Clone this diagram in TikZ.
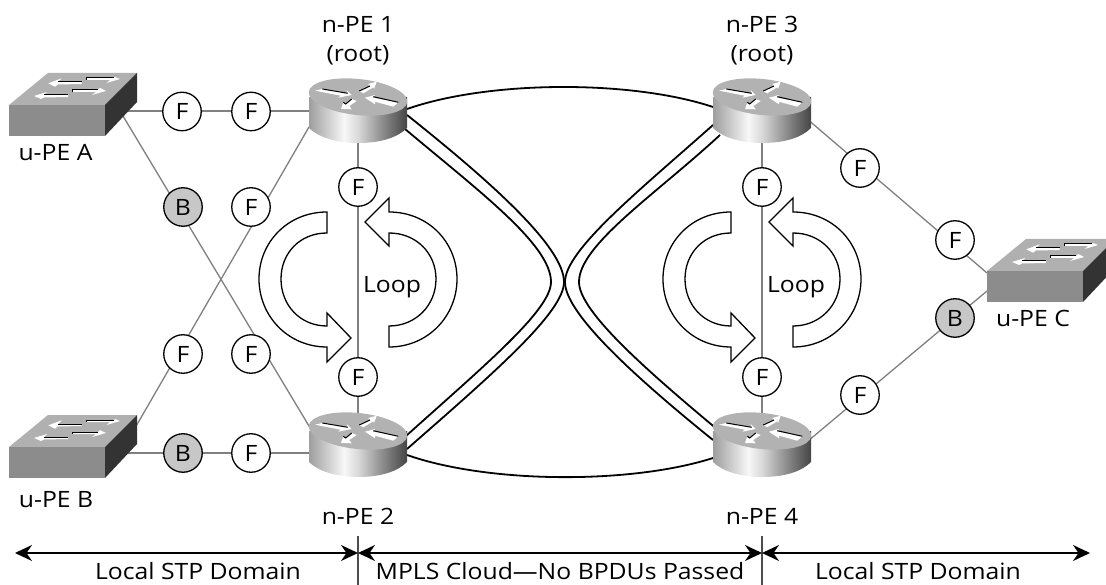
\documentclass[tikz,border=0pt]{standalone}
\usepackage{fontspec}
\setmainfont[FakeStretch=1.1]{Open Sans}
\usetikzlibrary{arrows.meta}
\pgfdeclarehorizontalshading{routerside}{100bp}{
 rgb(0bp)=(0.62,0.62,0.62);
 rgb(25bp)=(0.62,0.62,0.62);
 rgb(43bp)=(0.97,0.97,0.97);
 rgb(50bp)=(0.85,0.85,0.85);
 rgb(62bp)=(0.56,0.56,0.56);
 rgb(75bp)=(0.27,0.27,0.27);
 rgb(100bp)=(0.27,0.27,0.27)}
\definecolor{linkgray}{gray}{0.5}
\tikzset{
 x=1pt,y=-1pt,
 portline/.style={draw=linkgray,line width=1.3pt},
 stp/.style={circle,draw=black,fill=white,line width=1.3pt,minimum size=38.5pt,inner sep=0pt,font=\fontsize{22.5}{24}\selectfont},
 blocked/.style={stp,fill=black!22},
 lbl/.style={font=\fontsize{22.5}{24}\selectfont,inner sep=0pt},
 cable/.style={draw=black,line width=1.8pt},
 loopshape/.style={draw=black,fill=white,line width=1.3pt,line join=miter},
 whitearrow/.style={fill=white,draw=none},
 blackedge/.style={draw=black,line width=1pt},
 spanbar/.style={draw=black,line width=1.3pt,{Stealth[length=17pt,width=16pt]}-{Stealth[length=17pt,width=16pt]}},
 switchpic/.pic={
  \fill[black!31] (48,73) -- (137,73) -- (105,105) -- (9,105) -- cycle;
  \fill[black!45] (9,105) rectangle (105,136);
  \fill[black!80] (105,105) -- (137,73) -- (137,102) -- (105,136) -- cycle;
  \fill[whitearrow] (48.3,83.3) -- (61.7,78.3) -- (58,82) -- (81.7,82) -- (81.7,84) -- (58,84.5) -- (55,86.7) -- cycle;
  \draw[blackedge] (58,82) -- (81.7,82);
  \fill[whitearrow] (120,79) -- (115,77) -- (114,78) -- (86,78) -- (86,80) -- (110,80) -- (106.7,83) -- cycle;
  \draw[blackedge] (86,80) -- (86,78) -- (114,78);
  \fill[whitearrow] (34,96) -- (47,92) -- (44,95) -- (68,95) -- (68,97) -- (44,97.5) -- (41,99) -- cycle;
  \draw[blackedge] (44,95) -- (68,95);
  \fill[whitearrow] (106,91) -- (100,88) -- (98,90) -- (72,90) -- (72,92) -- (96,92) -- (92,95) -- cycle;
  \draw[blackedge] (72,92) -- (72,90) -- (98,90);
 },
 routerpic/.pic={
  \shade[shading=routerside] (-49,0) -- (-49,31) .. controls (-40,40) and (-22,46) .. (0,46) .. controls (24,46) and (40,40) .. (49,31) -- (49,0) -- cycle;
  \fill[black!30,rotate=-6] (0,0) ellipse [x radius=49.5,y radius=18];
  \fill[whitearrow] (-43,-6.3) -- (-35.7,-8) -- (-10.3,-3.7) -- (-11.3,-7) -- (-6.3,-2) -- (-19.7,.7) -- (-17.3,-1.3) -- cycle;
  \draw[blackedge] (-35.7,-8) -- (-10.3,-3.7);
  \fill[whitearrow] (18.7,-15.3) -- (10.3,-13) -- (12,-11) -- (1.3,-6) -- (5.3,-3.7) -- (15.3,-9.7) -- (16,-8) -- cycle;
  \draw[blackedge] (1.3,-6) -- (12,-11);
  \fill[whitearrow] (7,.7) -- (17,-2) -- (15.3,.7) -- (40.3,5.3) -- (35.3,9.7) -- (17,4.7) -- (17,7.3) -- cycle;
  \draw[blackedge] (15.3,-.3) -- (40.3,5.3);
  \fill[whitearrow] (-17,12) -- (-6.3,12.3) -- (-8.7,9) -- (-1.3,4) -- (-6.3,2) -- (-12.3,7) -- (-14.7,5.3) -- cycle;
  \draw[blackedge] (-14.7,5.3) -- (-12.3,7) -- (-6.3,2);
 },
 looppic/.pic={
  \path[loopshape] (327,212) .. controls (288,212) and (259,242) .. (259,279) .. controls (259,316) and (288,347) .. (327,347) -- (327,362) -- (351,338) -- (327,313) -- (327,326) .. controls (300,326) and (281,305) .. (281,279) .. controls (281,253) and (300,233) .. (327,233) -- cycle;
  \path[loopshape] (389,212) .. controls (428,212) and (457,242) .. (457,279) .. controls (457,316) and (428,347) .. (389,347) -- (389,326) .. controls (416,326) and (436,305) .. (436,279) .. controls (436,253) and (416,233) .. (389,233) -- (389,246) -- (365,222) -- (389,198) -- cycle;
 }
}
\begin{document}
\begin{tikzpicture}
\useasboundingbox (0,0) rectangle (1106,585);
\clip (0,0) rectangle (1106,585);
% anchor points of the devices
\coordinate (uaE) at (128,111);
\coordinate (uaS) at (123,116);
\coordinate (ubE) at (128,453);
\coordinate (ubN) at (135,428);
\coordinate (ucW) at (987,273);
\coordinate (ucS) at (987,291);
\coordinate (pe1W) at (309,111);
\coordinate (pe1S) at (309,127);
\coordinate (pe1B) at (358,143);
\coordinate (pe2W) at (309,453);
\coordinate (pe2N) at (312,431);
\coordinate (pe2T) at (358,413);
\coordinate (pe3E) at (806,118);
\coordinate (pe3B) at (762,143);
\coordinate (pe4E) at (808,441);
\coordinate (pe4T) at (762,413);
% thin links
\draw[portline] (uaE) -- (pe1W);
\draw[portline] (uaS) -- (pe2N);
\draw[portline] (ubN) -- (pe1S);
\draw[portline] (ubE) -- (pe2W);
\draw[portline] (pe1B) -- (pe2T);
\draw[portline] (pe3B) -- (pe4T);
\draw[portline] (pe3E) -- (ucW);
\draw[portline] (pe4E) -- (ucS);
% cloud cables
\coordinate (c1a) at (407,109); \coordinate (c1b) at (713,107);
\coordinate (c2a) at (407,455); \coordinate (c2b) at (713,458);
\coordinate (n1) at (405,129); \coordinate (n2) at (407,115);
\coordinate (n3) at (406,436); \coordinate (n4) at (407,449);
\coordinate (n5) at (713,125); \coordinate (n6) at (720,135);
\coordinate (n7) at (713,440); \coordinate (n8) at (718,430);
\coordinate (x1) at (551,282); \coordinate (x2) at (564,282);
\coordinate (x3) at (565,282); \coordinate (x4) at (579,282);
\draw[cable] (c1a) .. controls (490,80) and (632,80) .. (c1b);
\draw[cable] (c2a) .. controls (490,484) and (632,484) .. (c2b);
\draw[cable] (n1) .. controls (480,192) and (551,245) .. (x1) .. controls (551,310) and (485,365) .. (n3);
\draw[cable] (n2) .. controls (495,185) and (564,248) .. (x2) .. controls (564,312) and (495,372) .. (n4);
\draw[cable] (n5) .. controls (640,190) and (565,250) .. (x3) .. controls (565,310) and (620,365) .. (n7);
\draw[cable] (n6) .. controls (655,195) and (579,245) .. (x4) .. controls (579,310) and (640,365) .. (n8);
% devices
\pic at (0,0) {switchpic};
\pic at (0,342) {switchpic};
\pic at (978,166) {switchpic};
\pic at (358,97) {routerpic};
\pic at (358,431) {routerpic};
\pic at (762,97) {routerpic};
\pic at (762,431) {routerpic};
% loops
\pic at (0,0) {looppic};
\pic at (404,0) {looppic};
% state markers
\node[stp] (f1) at (182,111.5) {F};
\node[stp] (f2) at (251,111.5) {F};
\node[blocked] (b1) at (183,207) {B};
\node[stp] (f3) at (251,207) {F};
\node[stp] (f4) at (183,354) {F};
\node[stp] (f5) at (251,354) {F};
\node[blocked] (b2) at (183,453) {B};
\node[stp] (f6) at (251,453) {F};
\node[stp] (f7) at (358,187) {F};
\node[stp] (f8) at (358,377) {F};
\node[stp] (f9) at (762,187) {F};
\node[stp] (f10) at (762,377) {F};
\node[stp] (f11) at (860,168) {F};
\node[stp] (f12) at (955,240) {F};
\node[blocked] (b3) at (955,318) {B};
\node[stp] (f13) at (860,395) {F};
% labels
\node[lbl] (t1) at (358,24.5) {n-PE 1};
\node[lbl] (t2) at (358,55) {(root)};
\node[lbl] (t3) at (762,24.5) {n-PE 3};
\node[lbl] (t4) at (762,55) {(root)};
\node[lbl] (t5) at (358,516) {n-PE 2};
\node[lbl] (t6) at (762,516) {n-PE 4};
\node[lbl] (t7) at (55.5,152.5) {u-PE A};
\node[lbl] (t8) at (56,500) {u-PE B};
\node[lbl] (t9) at (1033,318) {u-PE C};
\node[lbl] (t10) at (392,287) {Loop};
\node[lbl] (t11) at (796,287) {Loop};
% domain bar
\coordinate (d0) at (15,553);
\coordinate (d1a) at (358,536); \coordinate (d1b) at (358,585); \coordinate (d1) at (358,553);
\coordinate (d2a) at (762,536); \coordinate (d2b) at (762,585); \coordinate (d2) at (762,553);
\coordinate (d3) at (1090,553);
\draw[line width=1.3pt,draw=black!70] (d1a) -- (d1b);
\draw[line width=1.3pt,draw=black!70] (d2a) -- (d2b);
\draw[spanbar] (d0) -- (d1);
\draw[spanbar] (d1) -- (d2);
\draw[spanbar] (d2) -- (d3);
\node[lbl] (t12) at (198,571) {Local STP Domain};
\node[lbl] (t13) at (560,571) {MPLS Cloud—No BPDUs Passed};
\node[lbl] (t14) at (918,571) {Local STP Domain};
\end{tikzpicture}
\end{document}
